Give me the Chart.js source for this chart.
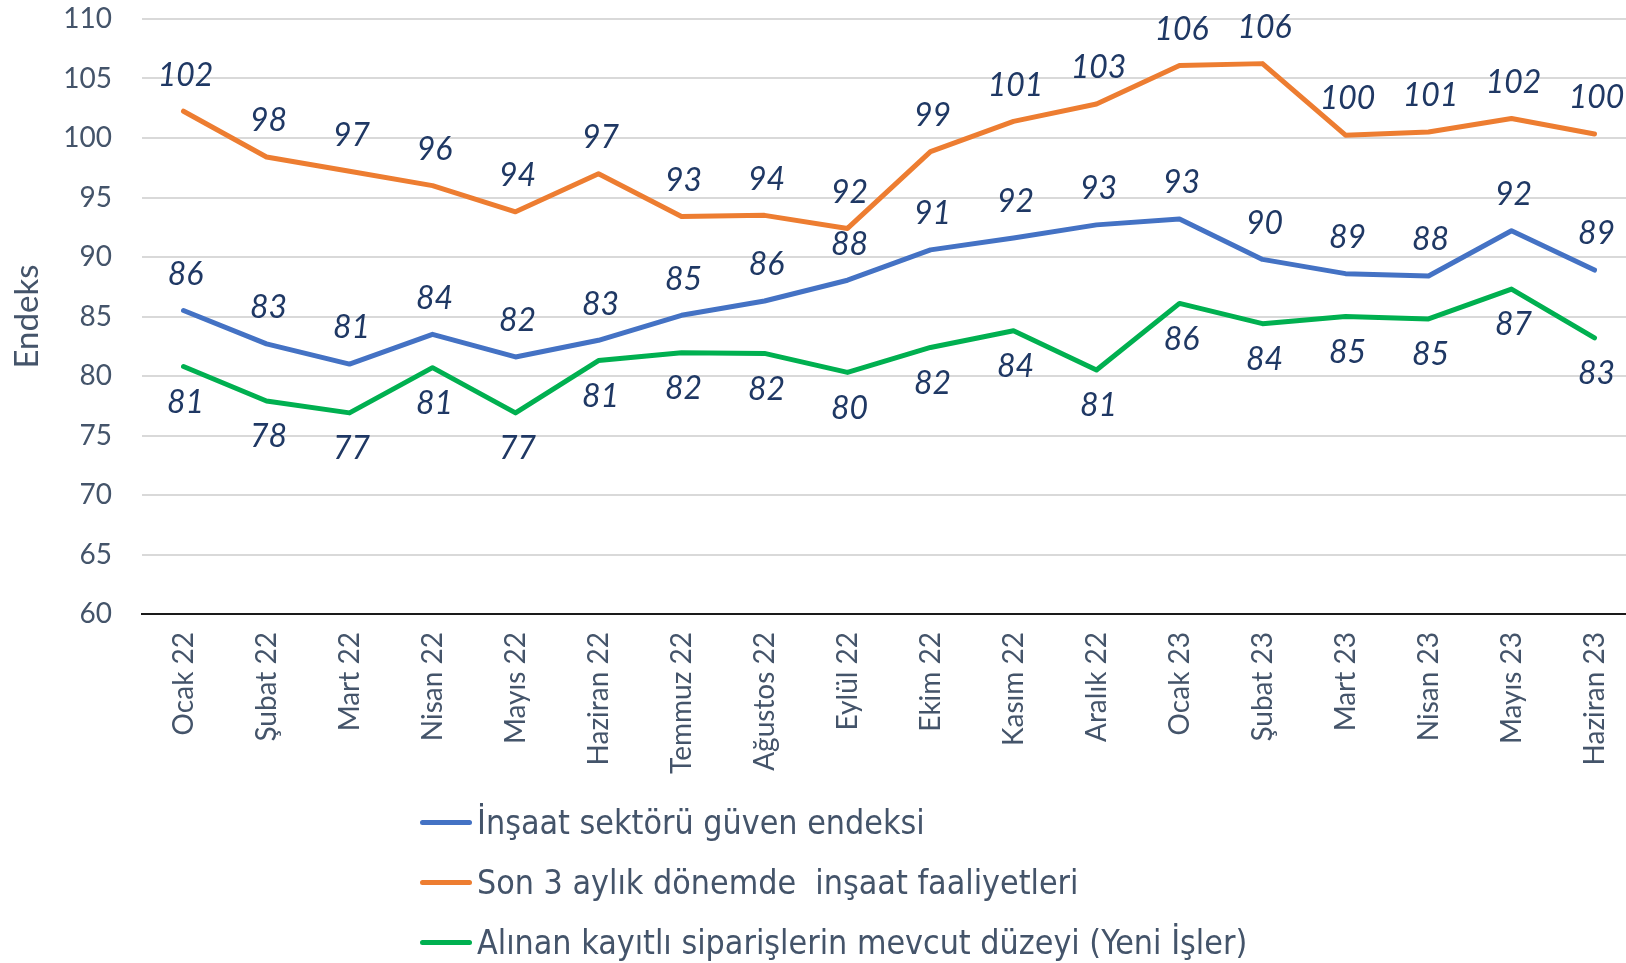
<!DOCTYPE html>
<html><head><meta charset="utf-8">
<script src="https://cdn.jsdelivr.net/npm/chart.js@4/dist/chart.umd.min.js"></script>
<style>
html,body{margin:0;padding:0;background:#fff;overflow:hidden;width:1626px;height:963px;}
#wrap{position:relative;width:1640px;height:963px;}
#c{position:absolute;left:0;top:0;}
#legend{position:absolute;left:420px;top:792px;font-family:"Liberation Sans Narrow","DejaVu Sans Condensed",sans-serif;font-size:33.7px;color:#44546A;}
.row{height:60px;display:flex;align-items:center;white-space:pre;}
.swatch{display:inline-block;width:52px;height:5px;border-radius:3px;margin-right:5px;}
</style></head><body>
<div id="wrap"><canvas id="c" width="1640" height="963"></canvas><div id="legend"></div></div>
<script>
const categories = ["Ocak 22","Şubat 22","Mart 22","Nisan 22","Mayıs 22","Haziran 22","Temmuz 22","Ağustos 22","Eylül 22","Ekim 22","Kasım 22","Aralık 22","Ocak 23","Şubat 23","Mart 23","Nisan 23","Mayıs 23","Haziran 23"];
const guvenEndeksi = [85.5,82.7,81.0,83.5,81.6,83.0,85.1,86.3,88.05,90.6,91.6,92.7,93.2,89.8,88.6,88.4,92.2,88.9];
const faaliyetler = [102.25,98.4,97.2,96.0,93.8,97.0,93.4,93.5,92.4,98.85,101.4,102.86,106.1,106.25,100.24,100.5,101.64,100.33];
const siparisler = [80.8,77.9,76.9,80.7,76.9,81.3,81.95,81.9,80.3,82.4,83.8,80.5,86.1,84.4,85.0,84.8,87.3,83.2];
const seriesNames = ["İnşaat sektörü güven endeksi","Son 3 aylık dönemde  inşaat faaliyetleri","Alınan kayıtlı siparişlerin mevcut düzeyi (Yeni İşler)"];
const seriesColors = ["#4472C4","#ED7D31","#00B050"];
const yMin = 60, yMax = 110, yStep = 5;
const axisTitle = "Endeks";

const valueLabels = {
  id:'valueLabels',
  afterDatasetsDraw(chart){
    const ctx = chart.ctx;
    chart.data.datasets.forEach((ds,i)=>{
      const meta = chart.getDatasetMeta(i);
      ctx.save();
      ctx.font = 'italic 32px Lato';
      ctx.fillStyle = '#1F3864';
      ctx.textAlign = 'center';
      ctx.textBaseline = 'middle';
      meta.data.forEach((pt,j)=>{
        const off = ds.labelPos === 'below' ? 36 : -36;
        ctx.fillText(String(Math.round(ds.data[j])), pt.x + 2, pt.y + off);
      });
      ctx.restore();
    });
  }
};

const datasets = [guvenEndeksi, faaliyetler, siparisler].map((d,i)=>({
  label: seriesNames[i], data: d, borderColor: seriesColors[i], backgroundColor: seriesColors[i],
  borderWidth: 5, pointRadius: 0, tension: 0, borderCapStyle:'round', borderJoinStyle:'round',
  labelPos: i === 2 ? 'below' : 'above'
}));

const chart = new Chart(document.getElementById('c'), {
  type:'line',
  data:{labels:categories, datasets},
  options:{
    responsive:false, animation:false, devicePixelRatio:1,
    layout:{padding:{top:19,right:4,left:0,bottom:0}},
    plugins:{legend:{display:false}, tooltip:{enabled:false}},
    scales:{
      x:{
        offset:true,
        grid:{display:false, drawTicks:false},
        border:{display:true,color:'#1a1a1a',width:2},
        ticks:{minRotation:90,maxRotation:90,autoSkip:false,padding:18,color:'#44546A',font:{family:'Lato',size:28}},
        afterFit(s){ s.height = 349; s.paddingLeft = 0; s.paddingRight = 0; }
      },
      y:{
        min:yMin,max:yMax,
        ticks:{stepSize:yStep,padding:30,color:'#44546A',font:{family:'Lato',size:28}},
        grid:{color:'#D9D9D9',lineWidth:2,drawTicks:false},
        border:{display:false},
        title:{display:true,text:axisTitle,color:'#44546A',font:{family:'Lato',size:33},padding:{top:8,bottom:0}},
        afterFit(s){ s.width = 142; s.paddingTop = 0; s.paddingBottom = 0; }
      }
    }
  },
  plugins:[valueLabels]
});

const leg = document.getElementById('legend');
chart.data.datasets.forEach(ds=>{
  const row = document.createElement('div'); row.className='row';
  const sw = document.createElement('span'); sw.className='swatch'; sw.style.background = ds.borderColor;
  const tx = document.createElement('span'); tx.textContent = ds.label;
  row.appendChild(sw); row.appendChild(tx); leg.appendChild(row);
});
</script>
</body></html>
